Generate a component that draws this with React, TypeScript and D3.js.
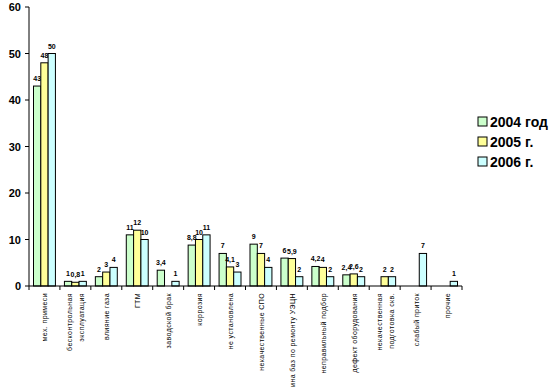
import * as d3 from "d3";

const categories = [
  ["мех. примеси"],
  ["бесконтрольная", "эксплуатация"],
  ["влияние газа"],
  ["ГТМ"],
  ["заводской брак"],
  ["коррозия"],
  ["не установлена"],
  ["некачественные СПО"],
  ["вина баз по ремонту УЭЦН"],
  ["неправильный подбор"],
  ["дефект оборудования"],
  ["некачественная", "подготовка скв."],
  ["слабый приток"],
  ["прочие"],
];

const seriesNames = ["2004 год", "2005 г.", "2006 г."];
const seriesColors = ["#ccffcc", "#ffff99", "#ccffff"];

const v2004 = [43, 1, 2, 11, 3.4, 8.8, 7, 9, 6, 4.2, 2.4, null, null, null];
const v2005 = [48, 0.8, 3, 12, null, 10, 4.1, 7, 5.9, 4, 2.6, 2, null, null];
const v2006 = [50, 1, 4, 10, 1, 11, 3, 4, 2, 2, 2, 2, 7, 1];
const series = [v2004, v2005, v2006];

const yTicks = [0, 10, 20, 30, 40, 50, 60];

const fmt = (v: number) => String(v).replace(".", ",");

export default function App() {
  const W = 553, H = 387;
  const left = 29, right = 462, top = 7, bottom = 286;

  const x = d3.scaleBand<number>()
    .domain(d3.range(categories.length))
    .range([left, right])
    .paddingInner(0)
    .paddingOuter(0);
  const inner = d3.scaleBand<number>()
    .domain([0, 1, 2])
    .range([4.5, x.bandwidth() - 4.5]);
  const y = d3.scaleLinear().domain([0, 60]).range([bottom, top]);

  return (
    <svg width={W} height={H} style={{ position: "absolute", left: 0, top: 0 }}
      fontFamily="Arial, 'Liberation Sans', sans-serif">
      {/* bars */}
      {categories.map((_, i) => (
        <g key={i} transform={`translate(${x(i)},0)`}>
          {series.map((s, j) => {
            const v = s[i];
            if (v == null) return null;
            return (
              <g key={j}>
                <rect x={inner(j)} y={y(v)} width={inner.bandwidth()} height={bottom - y(v)}
                  fill={seriesColors[j]} stroke="#000" strokeWidth={1} />
                <text x={inner(j)! + inner.bandwidth() / 2} y={y(v) - 5} fontSize={7}
                  fontWeight="bold" textAnchor="middle">{fmt(v)}</text>
              </g>
            );
          })}
        </g>
      ))}
      {/* y axis */}
      <line x1={left} x2={left} y1={top} y2={bottom} stroke="#000" />
      {yTicks.map(t => (
        <g key={t}>
          <line x1={left - 4} x2={left} y1={y(t)} y2={y(t)} stroke="#000" />
          <text x={left - 8} y={y(t) + 4} fontSize={11} fontWeight="bold"
            textAnchor="end">{t}</text>
        </g>
      ))}
      {/* x axis */}
      <line x1={left} x2={right} y1={bottom} y2={bottom} stroke="#000" />
      {d3.range(categories.length + 1).map(i => {
        const xx = left + i * x.bandwidth();
        return <line key={i} x1={xx} x2={xx} y1={bottom} y2={bottom + 4} stroke="#000" />;
      })}
      {categories.map((lines, i) => {
        const cx = x(i)! + x.bandwidth() / 2;
        return lines.map((ln, k) => {
          const lx = cx + 3 + (k - (lines.length - 1) / 2) * 12;
          return (
            <text key={i + "-" + k} transform={`translate(${lx},${bottom + 7}) rotate(-90)`}
              fontSize={7} textAnchor="end" letterSpacing={0.4}>{ln}</text>
          );
        });
      })}
      {/* legend */}
      {seriesNames.map((n, j) => {
        const ly = 122 + j * 20;
        return (
          <g key={n}>
            <rect x={478} y={ly - 5} width={9} height={9} fill={seriesColors[j]} stroke="#000" />
            <text x={490} y={ly + 5} fontSize={14} fontWeight="bold">{n}</text>
          </g>
        );
      })}
    </svg>
  );
}
